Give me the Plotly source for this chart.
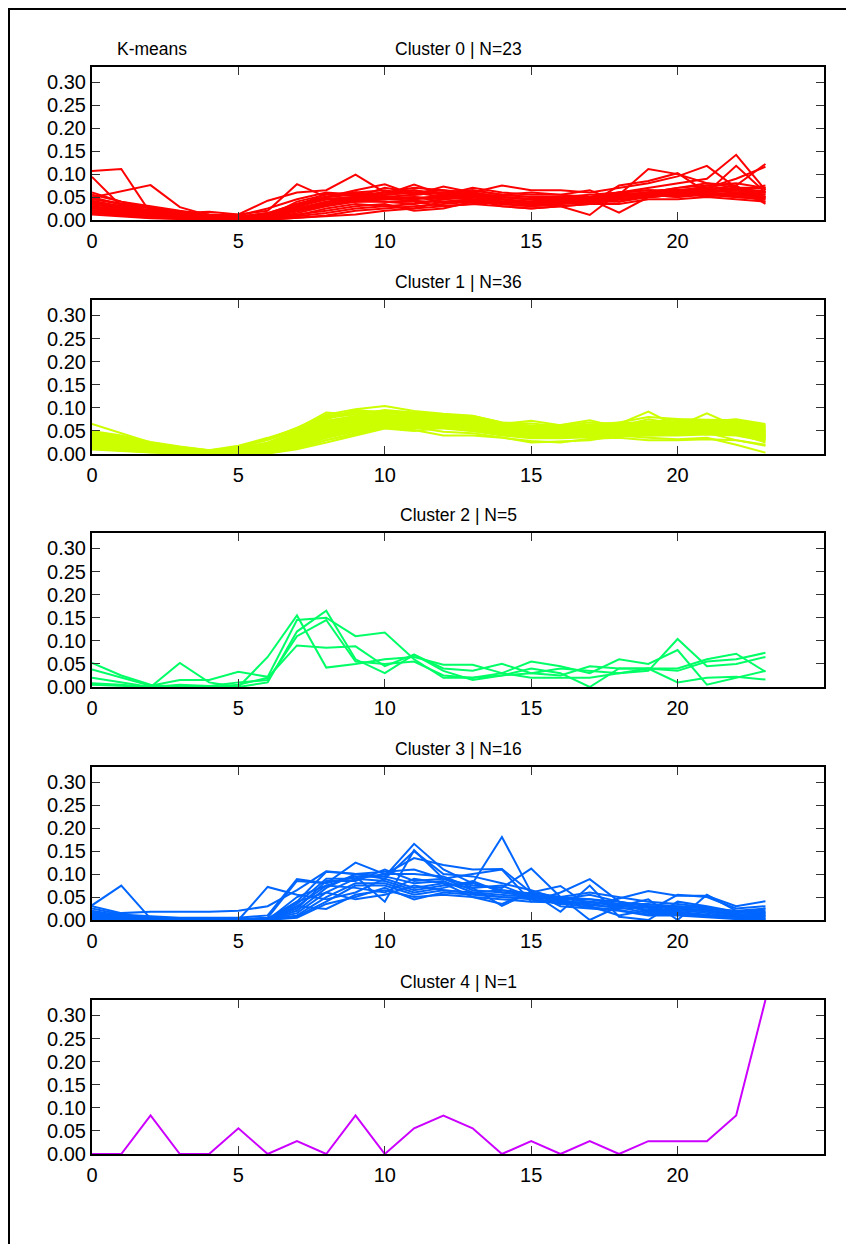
import plotly.graph_objects as go

hours = list(range(24))

cluster_titles = ["Cluster 0 | N=23", "Cluster 1 | N=36", "Cluster 2 | N=5", "Cluster 3 | N=16", "Cluster 4 | N=1"]
cluster_colors = ["#FF0000", "#CCFF00", "#00FF66", "#0066FF", "#CC00FF"]

x_tick_vals = [0, 5, 10, 15, 20]
y_tick_vals = [0.0, 0.05, 0.10, 0.15, 0.20, 0.25, 0.30]
y_tick_text = ["0.00", "0.05", "0.10", "0.15", "0.20", "0.25", "0.30"]

cluster0 = [
    [0.107,0.111,0.015,0.005,0.003,0.002,0.010,0.030,0.045,0.050,0.055,0.060,0.050,0.055,0.045,0.040,0.045,0.050,0.060,0.070,0.080,0.090,0.142,0.065],
    [0.094,0.030,0.020,0.010,0.008,0.005,0.015,0.035,0.050,0.060,0.050,0.055,0.060,0.065,0.055,0.050,0.050,0.045,0.055,0.111,0.100,0.080,0.070,0.060],
    [0.049,0.062,0.076,0.028,0.010,0.012,0.042,0.060,0.065,0.099,0.060,0.065,0.055,0.060,0.075,0.065,0.065,0.060,0.070,0.080,0.095,0.118,0.070,0.050],
    [0.060,0.040,0.025,0.015,0.018,0.012,0.020,0.078,0.050,0.065,0.078,0.055,0.073,0.060,0.050,0.045,0.040,0.035,0.075,0.085,0.102,0.060,0.118,0.060],
    [0.040,0.030,0.028,0.015,0.010,0.008,0.012,0.030,0.058,0.055,0.055,0.077,0.055,0.070,0.060,0.055,0.055,0.065,0.040,0.060,0.070,0.080,0.075,0.122],
    [0.035,0.025,0.015,0.010,0.008,0.005,0.008,0.025,0.040,0.050,0.070,0.060,0.065,0.055,0.040,0.035,0.030,0.011,0.060,0.065,0.065,0.070,0.090,0.116],
    [0.030,0.022,0.015,0.008,0.005,0.003,0.005,0.020,0.035,0.045,0.050,0.045,0.050,0.060,0.045,0.035,0.040,0.045,0.016,0.050,0.060,0.065,0.075,0.035],
    [0.025,0.018,0.010,0.005,0.003,0.002,0.003,0.015,0.030,0.040,0.040,0.035,0.045,0.050,0.040,0.040,0.045,0.040,0.050,0.055,0.050,0.060,0.070,0.070],
    [0.020,0.015,0.008,0.004,0.002,0.001,0.002,0.010,0.025,0.035,0.030,0.025,0.040,0.045,0.030,0.025,0.030,0.035,0.045,0.050,0.060,0.050,0.060,0.065],
    [0.015,0.010,0.005,0.003,0.001,0.000,0.000,0.005,0.010,0.020,0.025,0.030,0.035,0.040,0.035,0.030,0.035,0.040,0.040,0.050,0.055,0.060,0.055,0.050],
    [0.045,0.035,0.025,0.015,0.010,0.008,0.015,0.035,0.050,0.060,0.065,0.055,0.060,0.065,0.055,0.050,0.045,0.050,0.055,0.060,0.065,0.070,0.065,0.060],
    [0.055,0.040,0.030,0.020,0.012,0.010,0.025,0.045,0.060,0.055,0.060,0.070,0.065,0.060,0.050,0.045,0.050,0.055,0.060,0.055,0.060,0.065,0.060,0.055],
    [0.038,0.028,0.022,0.012,0.008,0.006,0.010,0.030,0.045,0.050,0.045,0.050,0.045,0.050,0.035,0.030,0.035,0.040,0.045,0.050,0.055,0.055,0.050,0.045],
    [0.028,0.020,0.012,0.006,0.004,0.003,0.006,0.025,0.040,0.045,0.040,0.040,0.030,0.035,0.030,0.025,0.030,0.035,0.035,0.045,0.045,0.050,0.045,0.040],
    [0.022,0.015,0.010,0.005,0.003,0.002,0.004,0.012,0.020,0.030,0.035,0.020,0.025,0.040,0.045,0.035,0.040,0.045,0.050,0.055,0.050,0.055,0.050,0.045],
    [0.050,0.033,0.020,0.012,0.008,0.005,0.008,0.040,0.055,0.060,0.055,0.060,0.060,0.055,0.045,0.040,0.040,0.045,0.050,0.060,0.065,0.060,0.065,0.055],
    [0.042,0.030,0.018,0.010,0.006,0.004,0.007,0.035,0.050,0.055,0.050,0.045,0.055,0.050,0.050,0.045,0.045,0.040,0.045,0.050,0.055,0.065,0.060,0.050],
    [0.033,0.026,0.020,0.012,0.007,0.005,0.010,0.028,0.048,0.040,0.045,0.050,0.040,0.045,0.040,0.035,0.040,0.035,0.050,0.055,0.060,0.055,0.055,0.060],
    [0.018,0.012,0.008,0.004,0.002,0.001,0.003,0.008,0.015,0.025,0.030,0.035,0.045,0.055,0.050,0.045,0.040,0.045,0.055,0.060,0.070,0.075,0.080,0.070],
    [0.012,0.008,0.004,0.002,0.001,0.000,0.001,0.005,0.008,0.012,0.020,0.025,0.030,0.035,0.040,0.040,0.045,0.050,0.055,0.050,0.055,0.060,0.065,0.070],
    [0.047,0.036,0.028,0.018,0.012,0.008,0.012,0.032,0.045,0.050,0.060,0.065,0.055,0.050,0.055,0.060,0.055,0.050,0.060,0.065,0.060,0.075,0.065,0.075],
    [0.036,0.024,0.016,0.009,0.006,0.004,0.006,0.022,0.038,0.048,0.052,0.048,0.050,0.045,0.040,0.038,0.042,0.048,0.052,0.058,0.062,0.068,0.058,0.040],
    [0.026,0.018,0.012,0.007,0.004,0.003,0.005,0.018,0.032,0.042,0.046,0.042,0.038,0.042,0.036,0.032,0.036,0.042,0.046,0.052,0.056,0.060,0.052,0.048],
]

cluster1 = [
    [0.065,0.045,0.025,0.015,0.008,0.018,0.035,0.055,0.090,0.085,0.095,0.090,0.085,0.080,0.065,0.072,0.062,0.068,0.065,0.092,0.060,0.088,0.060,0.050],
    [0.048,0.035,0.022,0.015,0.005,0.015,0.032,0.057,0.085,0.097,0.104,0.093,0.087,0.083,0.068,0.060,0.063,0.073,0.058,0.070,0.075,0.070,0.075,0.065],
    [0.040,0.030,0.020,0.012,0.006,0.010,0.020,0.045,0.075,0.095,0.090,0.088,0.080,0.075,0.060,0.055,0.055,0.060,0.068,0.065,0.072,0.068,0.072,0.060],
    [0.035,0.028,0.018,0.010,0.005,0.008,0.018,0.040,0.070,0.080,0.085,0.080,0.078,0.072,0.062,0.058,0.052,0.055,0.060,0.075,0.065,0.060,0.065,0.055],
    [0.030,0.025,0.015,0.008,0.004,0.006,0.015,0.035,0.065,0.075,0.080,0.075,0.075,0.070,0.058,0.052,0.050,0.052,0.055,0.060,0.058,0.062,0.060,0.050],
    [0.028,0.022,0.014,0.008,0.003,0.005,0.012,0.032,0.060,0.070,0.078,0.072,0.070,0.068,0.055,0.050,0.048,0.050,0.052,0.055,0.055,0.058,0.055,0.045],
    [0.025,0.020,0.012,0.006,0.003,0.004,0.010,0.030,0.055,0.068,0.075,0.070,0.068,0.065,0.052,0.048,0.046,0.048,0.050,0.052,0.052,0.055,0.052,0.042],
    [0.022,0.018,0.010,0.005,0.002,0.003,0.008,0.028,0.050,0.065,0.072,0.068,0.066,0.062,0.050,0.045,0.044,0.046,0.048,0.050,0.050,0.052,0.050,0.040],
    [0.020,0.015,0.008,0.004,0.002,0.002,0.006,0.025,0.045,0.060,0.070,0.066,0.064,0.060,0.048,0.042,0.042,0.044,0.046,0.048,0.048,0.050,0.048,0.038],
    [0.018,0.012,0.006,0.003,0.001,0.001,0.005,0.020,0.040,0.055,0.065,0.064,0.062,0.058,0.046,0.040,0.040,0.042,0.044,0.046,0.046,0.048,0.046,0.035],
    [0.015,0.010,0.005,0.002,0.001,0.001,0.003,0.015,0.035,0.050,0.060,0.060,0.060,0.055,0.044,0.038,0.038,0.040,0.042,0.044,0.044,0.046,0.044,0.032],
    [0.012,0.008,0.004,0.002,0.000,0.000,0.002,0.012,0.030,0.045,0.058,0.055,0.058,0.052,0.042,0.036,0.036,0.038,0.040,0.042,0.042,0.044,0.042,0.030],
    [0.010,0.006,0.003,0.001,0.000,0.000,0.001,0.010,0.025,0.040,0.055,0.050,0.057,0.050,0.040,0.034,0.034,0.036,0.038,0.040,0.040,0.042,0.040,0.028],
    [0.045,0.038,0.024,0.014,0.007,0.012,0.025,0.050,0.080,0.090,0.088,0.085,0.082,0.078,0.066,0.062,0.058,0.062,0.066,0.070,0.070,0.072,0.074,0.062],
    [0.042,0.034,0.022,0.013,0.006,0.011,0.022,0.048,0.078,0.086,0.084,0.082,0.080,0.076,0.064,0.060,0.056,0.060,0.064,0.068,0.068,0.070,0.070,0.058],
    [0.038,0.032,0.020,0.012,0.006,0.010,0.020,0.046,0.072,0.082,0.082,0.080,0.078,0.074,0.062,0.058,0.055,0.058,0.062,0.066,0.066,0.068,0.068,0.056],
    [0.036,0.030,0.019,0.011,0.005,0.009,0.018,0.044,0.068,0.078,0.080,0.078,0.076,0.072,0.060,0.056,0.054,0.057,0.060,0.064,0.064,0.066,0.066,0.054],
    [0.034,0.028,0.018,0.010,0.005,0.008,0.017,0.042,0.066,0.076,0.078,0.076,0.074,0.070,0.058,0.054,0.053,0.056,0.058,0.062,0.062,0.064,0.064,0.052],
    [0.032,0.027,0.017,0.010,0.005,0.008,0.016,0.040,0.064,0.074,0.076,0.074,0.072,0.068,0.057,0.053,0.052,0.055,0.057,0.060,0.061,0.062,0.062,0.050],
    [0.031,0.026,0.016,0.009,0.004,0.007,0.015,0.038,0.062,0.072,0.074,0.072,0.070,0.066,0.056,0.052,0.051,0.054,0.056,0.058,0.060,0.060,0.060,0.048],
    [0.029,0.024,0.015,0.009,0.004,0.007,0.014,0.036,0.060,0.070,0.072,0.070,0.068,0.064,0.055,0.051,0.050,0.053,0.055,0.056,0.058,0.058,0.058,0.046],
    [0.027,0.023,0.014,0.008,0.004,0.006,0.013,0.034,0.058,0.068,0.070,0.068,0.066,0.062,0.054,0.050,0.049,0.052,0.054,0.054,0.056,0.056,0.056,0.044],
    [0.026,0.021,0.013,0.008,0.003,0.006,0.012,0.033,0.056,0.066,0.069,0.067,0.065,0.061,0.053,0.049,0.048,0.051,0.053,0.053,0.055,0.055,0.055,0.043],
    [0.024,0.020,0.012,0.007,0.003,0.005,0.011,0.031,0.054,0.064,0.068,0.066,0.064,0.060,0.052,0.048,0.047,0.050,0.052,0.052,0.054,0.054,0.054,0.042],
    [0.023,0.019,0.011,0.007,0.003,0.005,0.010,0.030,0.052,0.062,0.067,0.065,0.063,0.059,0.051,0.047,0.046,0.049,0.051,0.051,0.053,0.053,0.053,0.041],
    [0.021,0.017,0.010,0.006,0.002,0.004,0.009,0.028,0.050,0.060,0.066,0.064,0.062,0.058,0.050,0.046,0.045,0.048,0.050,0.050,0.052,0.052,0.052,0.040],
    [0.019,0.016,0.009,0.005,0.002,0.004,0.008,0.026,0.048,0.058,0.065,0.063,0.061,0.057,0.049,0.045,0.044,0.047,0.049,0.049,0.051,0.051,0.051,0.039],
    [0.017,0.014,0.008,0.005,0.002,0.003,0.007,0.024,0.046,0.056,0.064,0.062,0.060,0.056,0.048,0.044,0.043,0.046,0.048,0.048,0.050,0.050,0.050,0.038],
    [0.016,0.013,0.007,0.004,0.002,0.003,0.006,0.022,0.044,0.054,0.063,0.061,0.059,0.055,0.047,0.043,0.042,0.045,0.047,0.047,0.049,0.049,0.049,0.036],
    [0.014,0.011,0.006,0.004,0.001,0.002,0.005,0.020,0.042,0.052,0.062,0.060,0.058,0.054,0.046,0.042,0.041,0.044,0.046,0.046,0.048,0.048,0.048,0.034],
    [0.050,0.040,0.026,0.016,0.008,0.014,0.030,0.052,0.082,0.092,0.092,0.088,0.084,0.082,0.068,0.066,0.060,0.064,0.068,0.080,0.076,0.074,0.073,0.060],
    [0.013,0.010,0.006,0.003,0.001,0.002,0.004,0.018,0.040,0.050,0.060,0.058,0.057,0.053,0.045,0.041,0.040,0.043,0.045,0.045,0.047,0.047,0.047,0.032],
    [0.020,0.015,0.010,0.005,0.002,0.004,0.010,0.012,0.030,0.042,0.058,0.052,0.040,0.040,0.035,0.028,0.025,0.033,0.035,0.030,0.030,0.032,0.030,0.020],
    [0.025,0.018,0.010,0.005,0.002,0.003,0.010,0.015,0.035,0.048,0.062,0.058,0.048,0.045,0.036,0.025,0.028,0.030,0.040,0.035,0.032,0.035,0.020,0.003],
    [0.030,0.022,0.012,0.006,0.003,0.005,0.012,0.032,0.058,0.060,0.070,0.060,0.070,0.065,0.050,0.040,0.042,0.038,0.048,0.055,0.050,0.045,0.045,0.025],
    [0.012,0.009,0.005,0.003,0.001,0.002,0.004,0.016,0.038,0.052,0.060,0.058,0.055,0.050,0.044,0.038,0.038,0.042,0.046,0.040,0.042,0.046,0.030,0.018],
]

cluster2 = [
    [0.052,0.025,0.005,0.000,0.000,0.005,0.020,0.090,0.085,0.088,0.045,0.070,0.040,0.035,0.050,0.030,0.025,0.045,0.040,0.040,0.035,0.055,0.060,0.074],
    [0.038,0.020,0.003,0.015,0.015,0.033,0.022,0.145,0.150,0.110,0.118,0.060,0.020,0.020,0.030,0.055,0.045,0.030,0.060,0.050,0.080,0.005,0.020,0.035],
    [0.020,0.010,0.000,0.052,0.010,0.000,0.065,0.155,0.042,0.050,0.060,0.065,0.048,0.048,0.030,0.020,0.020,0.020,0.030,0.035,0.104,0.045,0.050,0.065],
    [0.008,0.005,0.000,0.000,0.000,0.000,0.010,0.120,0.165,0.060,0.030,0.070,0.035,0.015,0.025,0.040,0.030,0.000,0.040,0.040,0.010,0.020,0.022,0.016],
    [0.005,0.003,0.000,0.005,0.002,0.010,0.015,0.110,0.145,0.055,0.050,0.055,0.025,0.020,0.025,0.030,0.040,0.035,0.030,0.040,0.040,0.060,0.072,0.033],
]

cluster3 = [
    [0.032,0.075,0.003,0.000,0.000,0.000,0.072,0.055,0.045,0.060,0.090,0.150,0.100,0.095,0.080,0.065,0.045,0.055,0.040,0.030,0.025,0.020,0.012,0.010],
    [0.030,0.015,0.018,0.018,0.018,0.020,0.030,0.065,0.106,0.100,0.095,0.166,0.110,0.080,0.181,0.060,0.050,0.045,0.040,0.030,0.030,0.025,0.020,0.015],
    [0.025,0.012,0.008,0.005,0.005,0.005,0.010,0.089,0.080,0.125,0.100,0.135,0.120,0.110,0.111,0.060,0.074,0.030,0.047,0.063,0.053,0.053,0.030,0.041],
    [0.020,0.010,0.005,0.003,0.002,0.002,0.005,0.085,0.080,0.095,0.040,0.152,0.090,0.100,0.110,0.040,0.060,0.089,0.040,0.020,0.055,0.050,0.025,0.030],
    [0.018,0.008,0.004,0.002,0.001,0.001,0.003,0.040,0.105,0.100,0.105,0.110,0.090,0.075,0.070,0.112,0.050,0.000,0.030,0.045,0.000,0.055,0.020,0.025],
    [0.015,0.006,0.003,0.002,0.001,0.001,0.002,0.035,0.090,0.090,0.100,0.100,0.095,0.070,0.031,0.060,0.018,0.075,0.007,0.000,0.040,0.030,0.018,0.020],
    [0.012,0.005,0.002,0.001,0.000,0.000,0.001,0.025,0.085,0.085,0.110,0.085,0.090,0.065,0.060,0.055,0.050,0.060,0.050,0.040,0.035,0.028,0.015,0.025],
    [0.010,0.004,0.002,0.001,0.000,0.000,0.000,0.030,0.075,0.095,0.095,0.080,0.085,0.060,0.065,0.055,0.045,0.045,0.035,0.035,0.030,0.025,0.015,0.018],
    [0.008,0.003,0.001,0.000,0.000,0.000,0.000,0.020,0.070,0.100,0.090,0.070,0.080,0.070,0.075,0.050,0.048,0.040,0.030,0.030,0.025,0.022,0.012,0.015],
    [0.006,0.002,0.001,0.000,0.000,0.000,0.000,0.015,0.060,0.090,0.085,0.065,0.075,0.080,0.065,0.058,0.042,0.035,0.025,0.028,0.028,0.018,0.010,0.012],
    [0.005,0.002,0.000,0.000,0.000,0.000,0.000,0.010,0.050,0.080,0.080,0.060,0.070,0.085,0.060,0.052,0.040,0.038,0.032,0.025,0.020,0.020,0.008,0.010],
    [0.004,0.001,0.000,0.000,0.000,0.000,0.000,0.008,0.040,0.075,0.075,0.055,0.065,0.060,0.055,0.050,0.045,0.030,0.010,0.022,0.022,0.015,0.006,0.008],
    [0.003,0.001,0.000,0.000,0.000,0.000,0.000,0.005,0.035,0.050,0.070,0.045,0.060,0.055,0.050,0.045,0.035,0.040,0.035,0.018,0.018,0.012,0.005,0.005],
    [0.002,0.000,0.000,0.000,0.000,0.000,0.000,0.030,0.024,0.055,0.065,0.050,0.055,0.050,0.045,0.040,0.038,0.032,0.028,0.015,0.015,0.010,0.004,0.003],
    [0.001,0.000,0.000,0.000,0.000,0.000,0.000,0.040,0.060,0.045,0.055,0.075,0.065,0.058,0.050,0.048,0.036,0.028,0.022,0.012,0.012,0.008,0.003,0.002],
    [0.000,0.000,0.000,0.000,0.000,0.000,0.000,0.050,0.075,0.070,0.060,0.090,0.080,0.050,0.035,0.062,0.030,0.025,0.020,0.010,0.010,0.006,0.002,0.000],
]

cluster4 = [
    [0.0, 0.0, 3/36, 0.0, 0.0, 2/36, 0.0, 1/36, 0.0, 3/36, 0.0, 2/36, 3/36, 2/36, 0.0, 1/36, 0.0, 1/36, 0.0, 1/36, 1/36, 1/36, 3/36, 12/36],
]

clusters = [cluster0, cluster1, cluster2, cluster3, cluster4]

# ---- layout geometry (page pixels; the page body adds an 8px offset) ----
OFF = 8
W, H = 854 - OFF, 1244 - OFF
LEFT, RIGHT = 92 - OFF, 824 - OFF
panel_tops = [t - OFF for t in [67, 300, 533, 767, 1000]]
panel_bottoms = [b - OFF for b in [220, 454, 687, 920, 1154]]
FONT = "Liberation Sans, Arial, sans-serif"

fig = go.Figure()

layout_axes = {}
annotations = []
for i, (lines, color) in enumerate(zip(clusters, cluster_colors)):
    xa = "x" if i == 0 else f"x{i+1}"
    ya = "y" if i == 0 else f"y{i+1}"
    for vals in lines:
        fig.add_trace(go.Scatter(x=hours, y=vals, mode="lines", xaxis=xa, yaxis=ya,
                                 line=dict(color=color, width=2), showlegend=False,
                                 hoverinfo="skip"))
    dom_y = [1 - panel_bottoms[i] / H, 1 - panel_tops[i] / H]
    common = dict(showline=True, linecolor="black", linewidth=2, mirror="ticks",
                  ticks="inside", ticklen=8, tickwidth=1, tickcolor="#333",
                  showgrid=False, zeroline=False, automargin=False,
                  tickfont=dict(family=FONT, size=20, color="black"))
    layout_axes["xaxis" if i == 0 else f"xaxis{i+1}"] = dict(
        domain=[0, 1], range=[0, 25], tickvals=x_tick_vals, anchor=ya,
        ticklabelstandoff=2, **common)
    layout_axes["yaxis" if i == 0 else f"yaxis{i+1}"] = dict(
        domain=dom_y, range=[0, 1/3], tickvals=y_tick_vals, ticktext=y_tick_text,
        anchor=xa, **common)
    annotations.append(dict(text=cluster_titles[i], xref="paper", yref="paper",
                            x=0.5, y=dom_y[1], xanchor="center", yanchor="bottom",
                            yshift=6, showarrow=False,
                            font=dict(family=FONT, size=17.5, color="black")))

annotations.append(dict(text="K-means", xref="paper", yref="paper",
                        x=(115 - 92) / (RIGHT - LEFT), y=1 - panel_tops[0] / H,
                        xanchor="left", yanchor="bottom", yshift=6, showarrow=False,
                        font=dict(family=FONT, size=17.5, color="black")))

plot_w = RIGHT - LEFT
frame = dict(type="rect", xref="paper", yref="paper",
             x0=(1 - LEFT) / plot_w, x1=1.2, y0=-0.2, y1=1 - 1 / H,
             line=dict(color="black", width=2), fillcolor="rgba(0,0,0,0)", layer="below")

fig.update_layout(width=W, height=H, margin=dict(l=LEFT, r=W - RIGHT, t=0, b=0),
                  plot_bgcolor="white", paper_bgcolor="white",
                  annotations=annotations, shapes=[frame], **layout_axes)

fig.write_html("out.html")
